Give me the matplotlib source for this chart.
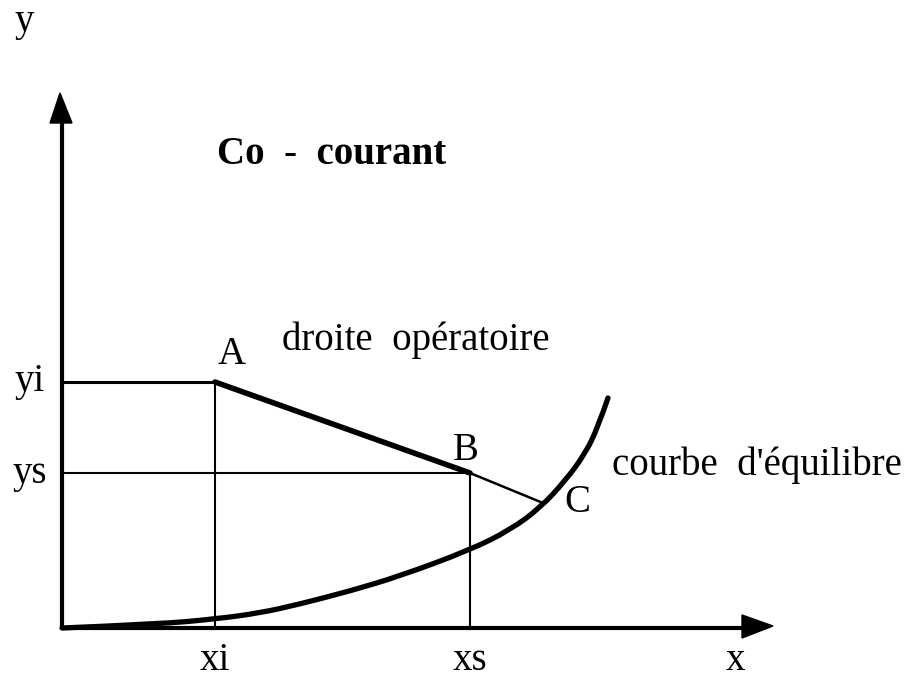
import matplotlib
matplotlib.use("Agg")
import matplotlib.pyplot as plt
from matplotlib.patches import Polygon, PathPatch
from matplotlib.path import Path

# Schematic values (data units: pixels from origin)
xi, xs = 153, 408
yi, ys = 246, 155
A = (xi, yi)
B = (xs, ys)
C = (481, 125)
curve_x = [0, 98, 153, 198, 238, 288, 338, 408, 448, 478, 503, 523, 536, 546]
curve_y = [0, 4, 9, 15, 24, 37, 52, 78, 98, 120, 147, 174, 201, 230]

fig = plt.figure(figsize=(9.1, 6.8), dpi=100)
ax = fig.add_axes([0, 0, 1, 1])
ax.set_xlim(-62, 848)
ax.set_ylim(-52, 628)
ax.axis("off")

serif = ["Liberation Serif", "DejaVu Serif"]
fs = 28

# axes
ax.plot([0, 680], [0, 0], color="black", lw=3, solid_capstyle="butt")
ax.plot([0, 0], [0, 505], color="black", lw=3, solid_capstyle="butt")
ax.add_patch(Polygon([[680, 13], [711, 2], [680, -10]], closed=True, color="black"))
ax.add_patch(Polygon([[-12, 505], [-2, 535], [10, 505]], closed=True, color="black"))

# guide lines
ax.plot([0, xi], [yi, yi], color="black", lw=2.2)
ax.plot([xi, xi], [0, yi], color="black", lw=1.5)
ax.plot([0, xs], [ys, ys], color="black", lw=1.5)
ax.plot([xs, xs], [0, ys], color="black", lw=1.5)

# operating line
ax.plot([A[0], B[0]], [A[1], B[1]], color="black", lw=4, solid_capstyle="round")
ax.plot([B[0], C[0]], [B[1], C[1]], color="black", lw=1.8)

# equilibrium curve: smooth quadratic B-spline through the read points
pts = list(zip(curve_x, curve_y))
verts = [pts[0]]
codes = [Path.MOVETO]
for i in range(1, len(pts) - 1):
    mid = ((pts[i][0] + pts[i + 1][0]) / 2, (pts[i][1] + pts[i + 1][1]) / 2)
    if i == len(pts) - 2:
        mid = pts[-1]
    verts += [pts[i], mid]
    codes += [Path.CURVE3, Path.CURVE3]
ax.add_patch(PathPatch(Path(verts, codes), fill=False, edgecolor="black",
                       lw=3.8, capstyle="round"))

# texts
kw = dict(family=serif, fontsize=fs, color="black")
ax.text(-47, 606, "y", ha="left", va="center", **kw)
ax.text(673, -33, "x", ha="center", va="center", **kw)
ax.text(-32, yi, "yi", ha="center", va="center", **kw)
ax.text(-32, ys, "ys", ha="center", va="center", **kw)
ax.text(xi, -33, "xi", ha="center", va="center", **kw)
ax.text(xs, -33, "xs", ha="center", va="center", **kw)
ax.text(A[0] + 17, A[1] + 27, "A", ha="center", va="center", **kw)
ax.text(B[0] - 4, B[1] + 23, "B", ha="center", va="center", **kw)
ax.text(C[0] + 34, C[1] + 1, "C", ha="center", va="center", **kw)
ax.text(155, 473, "Co  -  courant", ha="left", va="center", fontweight="bold", **kw)
ax.text(220, 288, "droite  opératoire", ha="left", va="center", **kw)
ax.text(550, 163, "courbe  d'équilibre", ha="left", va="center", **kw)

fig.savefig("out.png", dpi=100, facecolor="white")
